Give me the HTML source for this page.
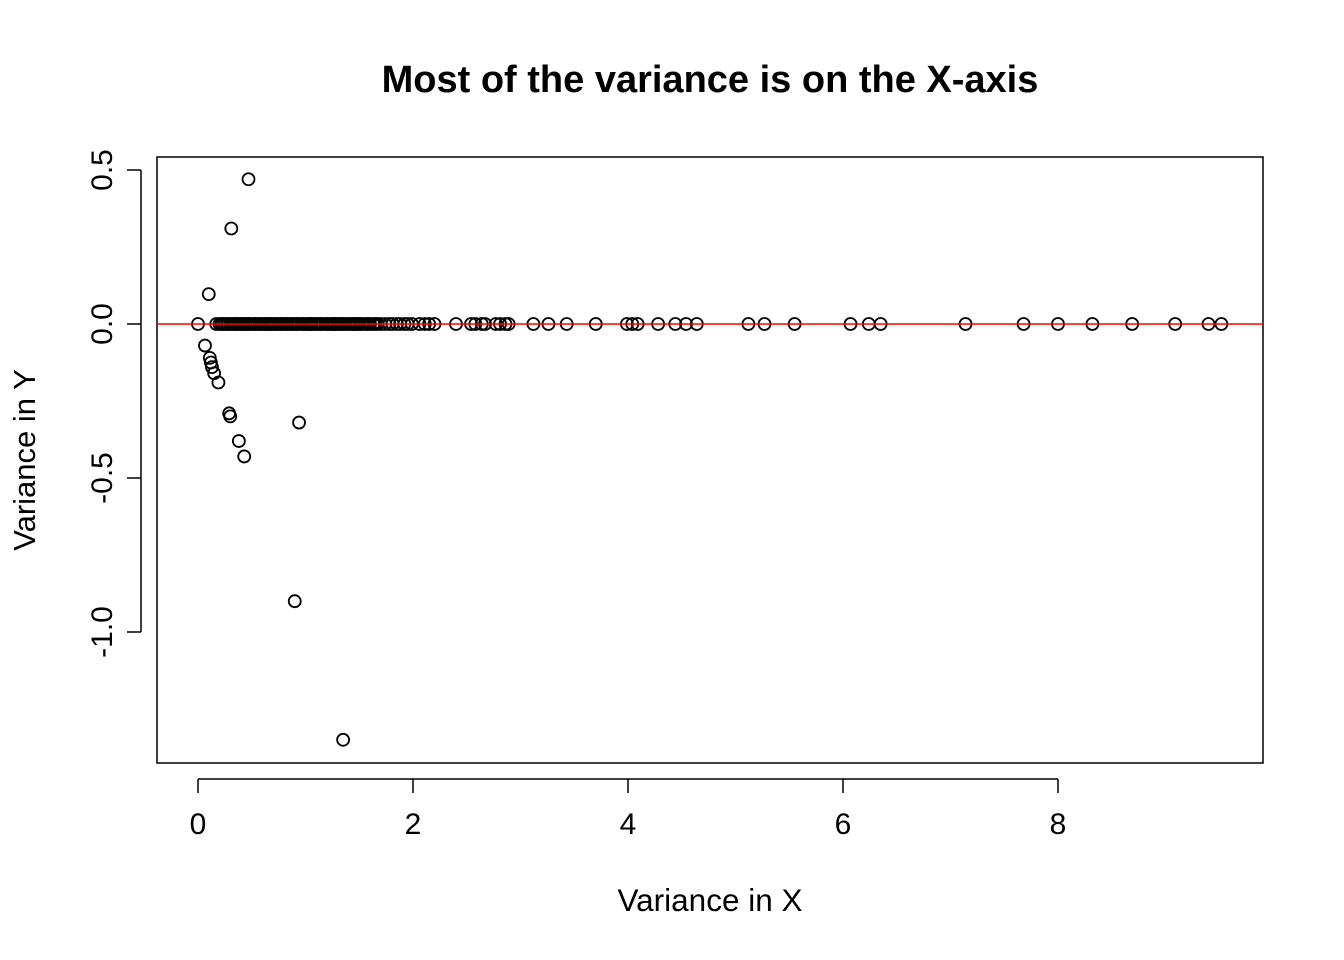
<!DOCTYPE html>
<html><head><meta charset="utf-8"><style>body{margin:0;background:#fff}svg{display:block;font-family:"Liberation Sans",Arial,sans-serif}</style></head>
<body>
<svg id="c" width="1344" height="960">
<text x="710" y="92" text-anchor="middle" font-size="38" font-weight="bold">Most of the variance is on the X-axis</text>
<rect x="157" y="157" width="1106" height="606" fill="none" stroke="#000" stroke-width="1.5"/>
<text x="710" y="911" text-anchor="middle" font-size="31.5">Variance in X</text>
<text transform="translate(35,460) rotate(-90)" text-anchor="middle" font-size="31">Variance in Y</text>
<g id="ax"></g><g id="pts"></g>
</svg>
<script>
const xTicks=[0,2,4,6,8];
const yTicks=[-1.0,-0.5,0.0,0.5];
const yTickLabels=["-1.0","-0.5","0.0","0.5"];
const zeroX=[0,0.17,0.2,0.22,0.23,0.25,0.27,0.28,0.3,0.32,0.34,0.35,0.36,0.38,0.4,0.41,0.42,0.44,0.46,0.47,0.48,0.5,0.52,0.53,0.55,0.57,0.58,0.6,0.62,0.64,0.65,0.67,0.68,0.7,0.72,0.73,0.75,0.77,0.78,0.8,0.82,0.83,0.85,0.87,0.88,0.9,0.92,0.93,0.96,0.97,0.98,1.0,1.02,1.03,1.05,1.06,1.08,1.1,1.12,1.13,1.15,1.16,1.19,1.2,1.22,1.24,1.25,1.27,1.28,1.3,1.32,1.33,1.35,1.36,1.39,1.4,1.42,1.44,1.45,1.47,1.48,1.5,1.52,1.53,1.56,1.58,1.6,1.63,1.65,1.67,1.7,1.74,1.78,1.81,1.85,1.88,1.92,1.95,1.99,2.06,2.11,2.15,2.2,2.4,2.54,2.58,2.64,2.67,2.77,2.81,2.86,2.89,3.12,3.26,3.43,3.7,3.99,4.04,4.09,4.28,4.44,4.54,4.64,5.12,5.27,5.55,6.07,6.24,6.35,7.14,7.68,8.0,8.32,8.69,9.09,9.4,9.52];
const offX=[0.1,0.31,0.47,0.065,0.11,0.12,0.13,0.15,0.19,0.29,0.3,0.38,0.43,0.94,0.9,1.35];
const offY=[0.097,0.31,0.47,-0.07,-0.11,-0.125,-0.14,-0.16,-0.19,-0.29,-0.30,-0.38,-0.43,-0.32,-0.90,-1.35];
const sx=v=>198+v*107.5, sy=v=>324-v*308;
const NS="http://www.w3.org/2000/svg";
const ax=document.getElementById('ax'), pts=document.getElementById('pts');
function mk(t,a,p){const e=document.createElementNS(NS,t);for(const k in a)e.setAttribute(k,a[k]);p.appendChild(e);return e;}
let l=mk('line',{x1:sx(xTicks[0]),x2:sx(xTicks[xTicks.length-1]),y1:779,y2:779,stroke:'#000','stroke-width':1.5},ax);


xTicks.forEach(v=>{const t=mk('line',{x1:sx(v),x2:sx(v),y1:779,y2:793,stroke:'#000','stroke-width':1.5},ax);


const tx=mk('text',{x:sx(v),y:834,'text-anchor':'middle','font-size':30},ax);tx.textContent=v;

});
l=mk('line',{x1:141,x2:141,y1:sy(yTicks[yTicks.length-1]),y2:sy(yTicks[0]),stroke:'#000','stroke-width':1.5},ax);


yTicks.forEach((v,i)=>{const t=mk('line',{x1:127,x2:141,y1:sy(v),y2:sy(v),stroke:'#000','stroke-width':1.5},ax);


const tx=mk('text',{transform:`translate(112,${sy(v)}) rotate(-90)`,'text-anchor':'middle','font-size':30},ax);tx.textContent=yTickLabels[i];

});
function pt(x,y){const c=mk('circle',{cx:sx(x),cy:sy(y),r:6,fill:'none',stroke:'#000','stroke-width':1.8},pts);

}
zeroX.forEach(x=>pt(x,0));
offX.forEach((x,i)=>pt(x,offY[i]));
const h=mk('line',{x1:157,x2:1263,y1:sy(0),y2:sy(0),stroke:'#f00','stroke-width':1.5},pts);


</script>
</body></html>
